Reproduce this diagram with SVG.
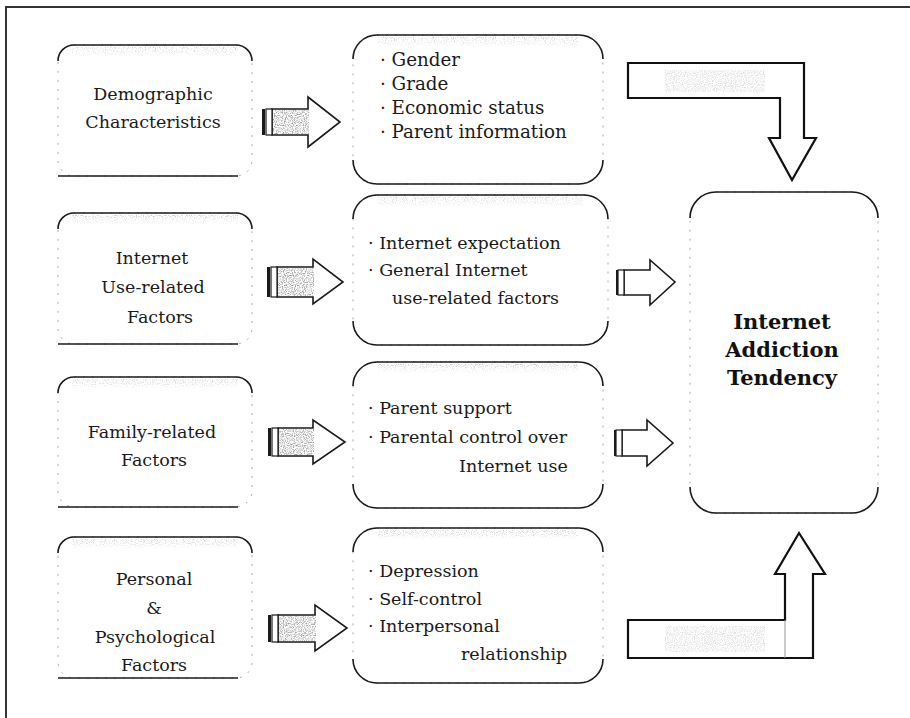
<svg xmlns="http://www.w3.org/2000/svg" width="910" height="718" viewBox="0 0 910 718">
<defs>
<filter id="spk" x="0" y="0" width="1" height="1" color-interpolation-filters="sRGB">
<feTurbulence type="fractalNoise" baseFrequency="0.9" numOctaves="1" seed="2"/>
<feColorMatrix type="matrix" values="0 0 0 0 0.5  0 0 0 0 0.5  0 0 0 0 0.5  2.4 0 0 0 -1.0"/>
<feComposite in2="SourceGraphic" operator="in"/>
</filter>
<filter id="spk2" x="0" y="0" width="1" height="1" color-interpolation-filters="sRGB">
<feTurbulence type="fractalNoise" baseFrequency="0.9" numOctaves="1" seed="5"/>
<feColorMatrix type="matrix" values="0 0 0 0 0.6  0 0 0 0 0.6  0 0 0 0 0.6  2.2 0 0 0 -1.05"/>
<feComposite in2="SourceGraphic" operator="in"/>
</filter>
<linearGradient id="fade" x1="0" y1="0" x2="0" y2="1">
<stop offset="0" stop-color="#000" stop-opacity="1"/>
<stop offset="1" stop-color="#000" stop-opacity="0"/>
</linearGradient>
</defs>
<style>
.side{fill:#fff;stroke:#aaa;stroke-width:1;stroke-dasharray:2 7}
.edge{fill:none;stroke:#1a1a1a;stroke-width:1.6}
.band{fill:url(#fade);filter:url(#spk2)}
.t{font-family:"DejaVu Serif","Liberation Serif",serif;font-size:17.5px;fill:#1a1a1a}
.m1{font-size:18.3px}
.c{text-anchor:middle}
.b{font-family:"DejaVu Serif","Liberation Serif",serif;font-size:21px;font-weight:bold;fill:#111;text-anchor:middle}
.arr{fill:#fff;stroke:#1a1a1a;stroke-width:1.6;stroke-linejoin:miter}
.tex{fill:#000;filter:url(#spk)}
.cap{fill:#fff;stroke:#1a1a1a;stroke-width:1.2}
.bar{fill:#1a1a1a}
.big{fill:#fff;stroke:#111;stroke-width:2.2;stroke-linejoin:miter}
.thin{fill:none;stroke:#999;stroke-width:1}
</style>

<path d="M6,718 V7 H910" fill="none" stroke="#333" stroke-width="2"/>

<!-- Left column -->
<g id="demographic">
<rect class="side" x="58" y="45" width="194" height="131" rx="16"/>
<rect class="band" x="72" y="47" width="166" height="10"/>
<path class="edge" d="M58,61 A16,16 0 0 1 74,45 H236 A16,16 0 0 1 252,61"/>
<path class="edge" d="M58,176 H238"/>
<text class="t c" x="153" y="100">Demographic</text>
<text class="t c" x="153" y="128">Characteristics</text>
</g>
<g id="internet-use">
<rect class="side" x="58" y="213" width="194" height="131" rx="16"/>
<rect class="band" x="72" y="215" width="166" height="10"/>
<path class="edge" d="M58,229 A16,16 0 0 1 74,213 H236 A16,16 0 0 1 252,229"/>
<path class="edge" d="M58,344 H238"/>
<text class="t c" x="152" y="264">Internet</text>
<text class="t c" x="153" y="293">Use-related</text>
<text class="t c" x="160" y="323">Factors</text>
</g>
<g id="family">
<rect class="side" x="58" y="377" width="194" height="130" rx="16"/>
<rect class="band" x="72" y="379" width="166" height="10"/>
<path class="edge" d="M58,393 A16,16 0 0 1 74,377 H236 A16,16 0 0 1 252,393"/>
<path class="edge" d="M58,507 H238"/>
<text class="t c" x="152" y="438">Family-related</text>
<text class="t c" x="154" y="466">Factors</text>
</g>
<g id="personal">
<rect class="side" x="58" y="537" width="194" height="141" rx="16"/>
<rect class="band" x="72" y="539" width="166" height="10"/>
<path class="edge" d="M58,553 A16,16 0 0 1 74,537 H236 A16,16 0 0 1 252,553"/>
<path class="edge" d="M58,678 H238"/>
<text class="t c" x="154" y="585">Personal</text>
<text class="t c" x="154" y="614">&amp;</text>
<text class="t c" x="155" y="643">Psychological</text>
<text class="t c" x="154" y="671">Factors</text>
</g>

<!-- Middle column -->
<g id="demo-items">
<rect class="side" x="353" y="35" width="250" height="149" rx="24"/>
<rect class="band" x="378" y="37" width="200" height="10"/>
<path class="edge" d="M353,59 A24,24 0 0 1 377,35 H579 A24,24 0 0 1 603,59"/>
<path class="edge" d="M353,160 A24,24 0 0 0 377,184 H579 A24,24 0 0 0 603,160"/>
<text class="t m1" x="380" y="66">· Gender</text>
<text class="t m1" x="380" y="90">· Grade</text>
<text class="t m1" x="380" y="114">· Economic status</text>
<text class="t m1" x="380" y="138">· Parent information</text>
</g>
<g id="internet-items">
<rect class="side" x="353" y="195" width="255" height="150" rx="24"/>
<rect class="band" x="378" y="197" width="205" height="10"/>
<path class="edge" d="M353,219 A24,24 0 0 1 377,195 H584 A24,24 0 0 1 608,219"/>
<path class="edge" d="M353,321 A24,24 0 0 0 377,345 H584 A24,24 0 0 0 608,321"/>
<text class="t" x="368" y="249">· Internet expectation</text>
<text class="t" x="368" y="276">· General Internet</text>
<text class="t" x="392" y="304">use-related factors</text>
</g>
<g id="family-items">
<rect class="side" x="353" y="362" width="250" height="146" rx="24"/>
<rect class="band" x="378" y="364" width="200" height="10"/>
<path class="edge" d="M353,386 A24,24 0 0 1 377,362 H579 A24,24 0 0 1 603,386"/>
<path class="edge" d="M353,484 A24,24 0 0 0 377,508 H579 A24,24 0 0 0 603,484"/>
<text class="t" x="368" y="414">· Parent support</text>
<text class="t" x="368" y="443">· Parental control over</text>
<text class="t" x="459" y="472">Internet use</text>
</g>
<g id="personal-items">
<rect class="side" x="353" y="528" width="250" height="155" rx="24"/>
<rect class="band" x="378" y="530" width="200" height="10"/>
<path class="edge" d="M353,552 A24,24 0 0 1 377,528 H579 A24,24 0 0 1 603,552"/>
<path class="edge" d="M353,659 A24,24 0 0 0 377,683 H579 A24,24 0 0 0 603,659"/>
<text class="t" x="368" y="577">· Depression</text>
<text class="t" x="368" y="605">· Self-control</text>
<text class="t" x="368" y="632">· Interpersonal</text>
<text class="t" x="461" y="660">relationship</text>
</g>

<!-- Right node -->
<g id="addiction">
<rect class="side" x="690" y="192" width="188" height="321" rx="26"/>
<path class="edge" d="M690,218 A26,26 0 0 1 716,192 H852 A26,26 0 0 1 878,218"/>
<path class="edge" d="M690,487 A26,26 0 0 0 716,513 H852 A26,26 0 0 0 878,487"/>
<text class="b" x="782" y="329">Internet</text>
<text class="b" x="782" y="357">Addiction</text>
<text class="b" x="782" y="385">Tendency</text>
</g>

<!-- Connectors -->
<g id="connectors">
<g>
<path class="arr" d="M272,109 H308 V97 L340,122 L308,147 V135 H272 Z"/>
<rect class="tex" x="273" y="110" width="36" height="24"/>
<rect class="cap" x="266" y="109" width="6" height="26"/>
<rect class="bar" x="262" y="109" width="3" height="26"/>
</g>
<g>
<path class="arr" d="M277,267 H313 V259 L343,282 L313,304 V297 H277 Z"/>
<rect class="tex" x="278" y="268" width="36" height="28"/>
<rect class="cap" x="271" y="267" width="6" height="30"/>
<rect class="bar" x="267" y="267" width="3" height="30"/>
</g>
<g>
<path class="arr" d="M278,428 H313 V420 L345,442 L313,464 V456 H278 Z"/>
<rect class="tex" x="279" y="429" width="35" height="26"/>
<rect class="cap" x="272" y="428" width="6" height="28"/>
<rect class="bar" x="268" y="428" width="3" height="28"/>
</g>
<g>
<path class="arr" d="M278,615 H315 V605 L347,628 L315,651 V642 H278 Z"/>
<rect class="tex" x="279" y="616" width="37" height="25"/>
<rect class="cap" x="272" y="615" width="6" height="27"/>
<rect class="bar" x="268" y="615" width="3" height="27"/>
</g>
<g>
<path class="arr" d="M624,270 H650 V260 L675,282 L650,305 V295 H624 Z"/>
<rect class="cap" x="618" y="270" width="6" height="25"/>
<rect class="bar" x="616" y="270" width="2" height="25"/>
</g>
<g>
<path class="arr" d="M622,430 H647 V420 L673,443 L647,466 V456 H622 Z"/>
<rect class="cap" x="616" y="430" width="6" height="26"/>
<rect class="bar" x="614" y="430" width="2" height="26"/>
</g>
<g>
<path class="big" d="M628,63 H804 V138 H816 L792,180 L769,138 H780 V98 H628 Z"/>
<rect class="tex" x="665" y="70" width="100" height="22" opacity="0.35"/>
</g>
<g>
<path class="big" d="M628,620 H785 V574 H775 L799,533 L825,574 H813 V658 H628 Z"/>
<rect class="tex" x="665" y="626" width="100" height="26" opacity="0.35"/>
<path class="thin" d="M785,620 V658"/>
</g>
</g>
</svg>
